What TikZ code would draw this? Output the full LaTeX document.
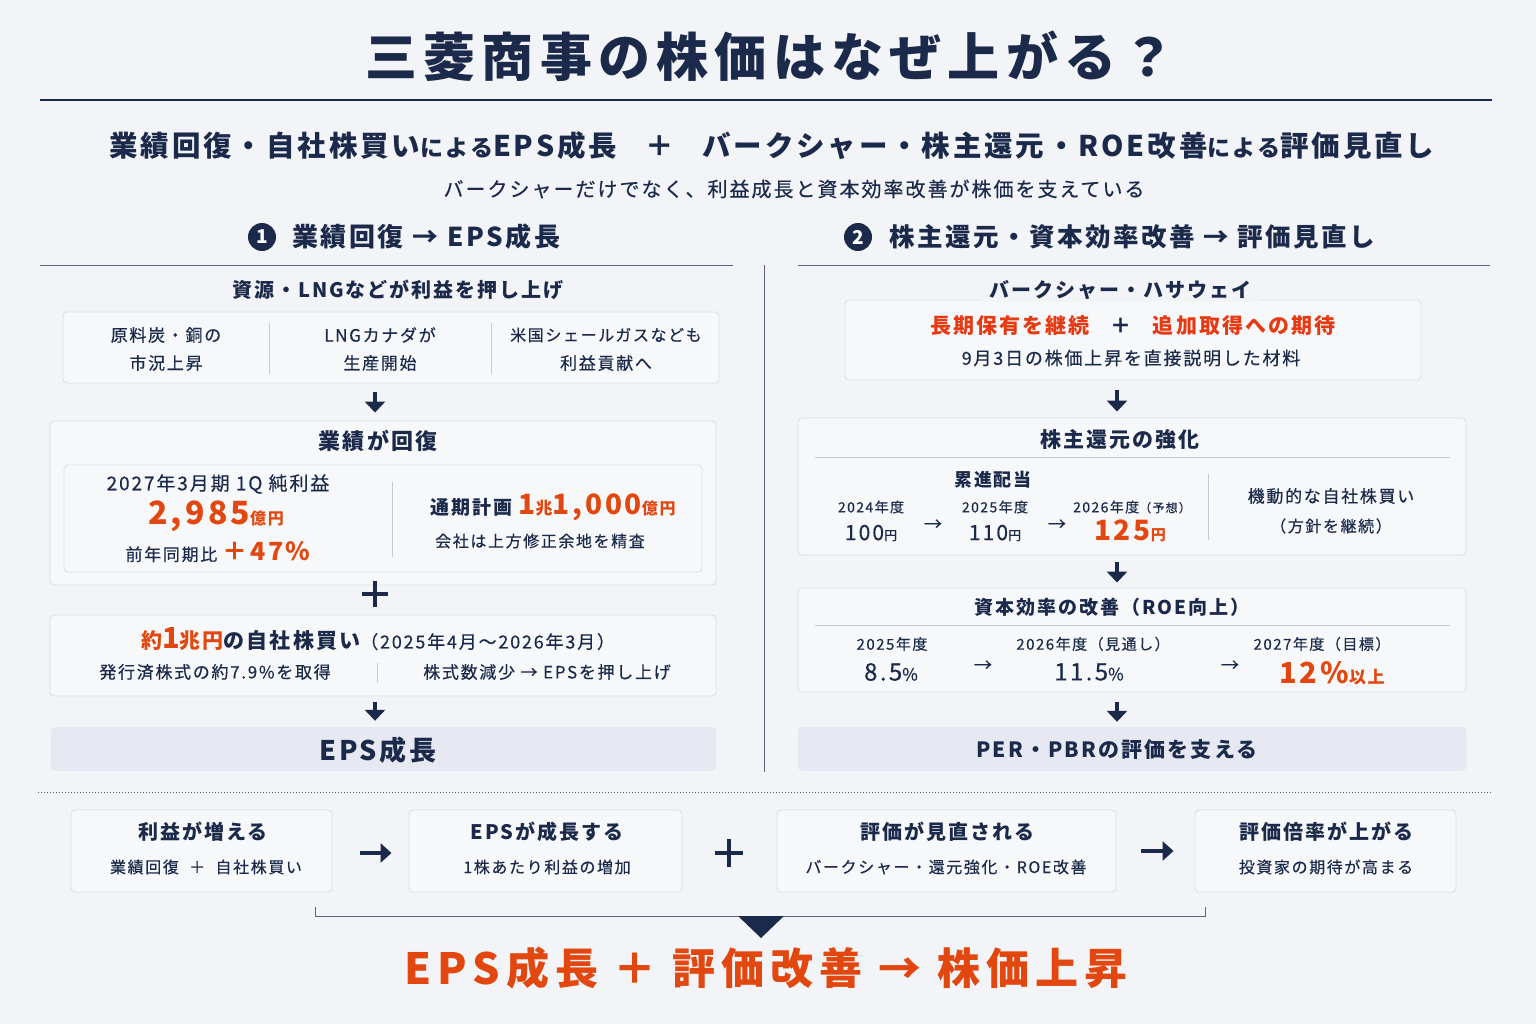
\documentclass[tikz,border=0pt]{standalone}
\usepackage{fontspec}
\setmainfont{Noto Sans CJK JP}[LetterSpace=10,UprightFeatures={FakeBold=0.4}]
\newfontfamily\ttlfont{Noto Sans CJK JP}[LetterSpace=12]
\newfontfamily\bigfont{Noto Sans CJK JP}[LetterSpace=14]
\usetikzlibrary{arrows.meta,calc}
\definecolor{navy}{HTML}{1B2A4A}
\definecolor{org}{HTML}{E2470F}
\definecolor{red2}{HTML}{E63A12}
\definecolor{bgc}{HTML}{F3F4F7}
\definecolor{bordc}{HTML}{DCDFE8}
\definecolor{boxf}{HTML}{F7F8FA}
\definecolor{epsf}{HTML}{E6E9F1}
\definecolor{rulec}{HTML}{5A6580}
\newcommand\fz[1]{\fontsize{#1}{#1}\selectfont}
\begin{document}
\begin{tikzpicture}[x=1pt,y=-1pt,
  t/.style={text=navy,inner sep=0pt,anchor=center},
  panel/.style={draw=bordc,fill=boxf,rounded corners=4pt,line width=0.9pt,inner sep=0pt},
  shade/.style={fill=epsf,rounded corners=4pt,inner sep=0pt,draw=none},
  darr/.style={navy,line width=3.8pt,-{Triangle[width=20pt,length=11pt]}},
  rarr/.style={navy,line width=4.2pt,-{Triangle[width=19pt,length=11pt]}},
  divl/.style={draw=bordc!70!navy!60,line width=0.8pt},
  plus/.style={navy,line width=3.8pt}]
\fill[bgc] (0,0) rectangle (1536,1024);
\useasboundingbox (0,0) rectangle (1536,1024);

% title
\node[t] (title) at (770,56) {\ttlfont\bfseries\fz{52}三菱商事の株価はなぜ上がる？};
\coordinate (tl) at (40,100); \coordinate (tr) at (1492,100);
\draw[navy,line width=1.6pt] (tl) -- (tr);
\node[t] (sub) at (772,146) {\bfseries\fz{28.5}業績回復・自社株買い{\fz{23}による}EPS成長\quad＋\quad バークシャー・株主還元・ROE改善{\fz{23}による}評価見直し};
\node[t] (sub2) at (794,189) {\fz{20}バークシャーだけでなく、利益成長と資本効率改善が株価を支えている};

% section headers
\node[circle,fill=navy,minimum size=28pt,inner sep=0pt,text=white] (c1) at (262,237) {\bfseries\fz{19}1};
\node[t,anchor=west] (h1) at (292,237) {\bfseries\fz{26}業績回復 → EPS成長};
\node[circle,fill=navy,minimum size=28pt,inner sep=0pt,text=white] (c2) at (858,237) {\bfseries\fz{19}2};
\node[t,anchor=west] (h2) at (889,237) {\bfseries\fz{25.5}株主還元・資本効率改善 → 評価見直し};
\coordinate (l1a) at (40,265); \coordinate (l1b) at (733,265);
\coordinate (l2a) at (798,265); \coordinate (l2b) at (1490,265);
\draw[rulec,line width=0.9pt] (l1a) -- (l1b);
\draw[rulec,line width=0.9pt] (l2a) -- (l2b);
\coordinate (va) at (764,265); \coordinate (vb) at (764,772);
\draw[rulec,line width=0.9pt] (va) -- (vb);

% ---------- LEFT ----------
\coordinate (ax) at (375,0);
\node[t] (lh) at (398,290) {\bfseries\fz{20}資源・LNGなどが利益を押し上げ};
\node[panel,minimum width=656pt,minimum height=71pt] (src) at (391,347.5) {};
\draw[divl] (269,323) -- (269,374);
\draw[divl] (491,323) -- (491,374);
\node[t] (s1a) at (166,335) {\fz{17}原料炭・銅の};
\node[t] (s1b) at (166,363) {\fz{17}市況上昇};
\node[t] (s2a) at (380,335) {\fz{17}LNGカナダが};
\node[t] (s2b) at (380,363) {\fz{17}生産開始};
\node[t] (s3a) at (606,335) {\fz{16}米国シェールガスなども};
\node[t] (s3b) at (606,363) {\fz{17}利益貢献へ};

\node[panel,minimum width=666pt,minimum height=164pt] (rec) at (383,503) {};
\draw[darr] ($(src.south -| ax)+(0,9)$) -- ($(rec.north -| ax)+(0,-8)$);
\node[t] (rect) at (378,441) {\bfseries\fz{22}業績が回復};
\node[panel,minimum width=638pt,minimum height=107pt] (reci) at (383,518.5) {};
\draw[divl] (392,482) -- (392,557);
\node[t] (r1) at (218,484) {\fz{19}2027年3月期 1Q 純利益};
\node[t] (r2) at (216,516) {\color{org}\bfseries{\fz{32}2,985}{\fz{16}億円}};
\node[t] (r3) at (218,552) {\fz{17}前年同期比\ {\color{org}\bfseries\fz{25}＋47\%}};
\node[t] (r4) at (553,507) {{\bfseries\fz{19}通期計画}\ \ {\color{org}\bfseries{\fz{28}1}{\fz{17}兆}{\fz{28}1,000}{\fz{16}億円}}};
\node[t] (r5) at (540,541) {\fz{16}会社は上方修正余地を精査};

\node[panel,minimum width=666pt,minimum height=81pt] (buy) at (383,655.5) {};
\draw[plus] (362,594) -- (388,594);
\draw[plus] (375,581) -- (375,607);
\node[t] (b1) at (378,639) {{\color{org}\bfseries\fz{21}約{\fz{29}1}兆円}{\bfseries\fz{21}の自社株買い}{\fz{18}（2025年4月～2026年3月）}};
\draw[divl] (377,663) -- (377,683);
\node[t] (b2) at (215,672) {\fz{17}発行済株式の約7.9\%を取得};
\node[t] (b3) at (547,672) {\fz{17}株式数減少 → EPSを押し上げ};

\node[shade,minimum width=665pt,minimum height=44pt] (eps) at (383.5,749) {};
\draw[darr] ($(buy.south -| ax)+(0,6)$) -- ($(eps.north -| ax)+(0,-6)$);
\node[t] (epst) at (378,750) {\bfseries\fz{27}EPS成長};

% ---------- RIGHT ----------
\coordinate (bx) at (1117,0);
\node[panel,minimum width=576pt,minimum height=80pt] (brk) at (1133,340) {};
\node[t,fill=bgc,inner xsep=8pt,inner ysep=2pt] (brkt) at (1120,290) {\bfseries\fz{20}バークシャー・ハサウェイ};
\node[t] (brk1) at (1133,326) {\bfseries\fz{21}{\color{red2}長期保有を継続}\quad ＋\quad {\color{red2}追加取得への期待}};
\node[t] (brk2) at (1131,358) {\fz{18}9月3日の株価上昇を直接説明した材料};

\node[panel,minimum width=668pt,minimum height=137pt] (ret) at (1132,486.5) {};
\draw[darr] ($(brk.south -| bx)+(0,10)$) -- ($(ret.north -| bx)+(0,-6)$);
\node[t] (rett) at (1120,440) {\bfseries\fz{21}株主還元の強化};
\draw[divl] (815,457) -- (1450,457);
\node[t] (prog) at (993,480) {\bfseries\fz{18}累進配当};
\node[t] (y1) at (871,507) {\fz{14}2024年度};
\node[t] (y2) at (995,507) {\fz{14}2025年度};
\node[t] (y3) at (1132,507) {\fz{14}2026年度{\fz{12}（予想）}};
\node[t] (v1) at (871,533) {{\fz{21}100}{\fz{13}円}};
\node[t] (v2) at (995,533) {{\fz{21}110}{\fz{13}円}};
\node[t] (v3) at (1130,531) {\color{org}\bfseries{\fz{28}125}{\fz{15}円}};
\node[t] (a1) at (933,525) {\fz{18}→};
\node[t] (a2) at (1057,525) {\fz{18}→};
\draw[divl] (1208,474) -- (1208,540);
\node[t] (kd1) at (1331,496) {\fz{17}機動的な自社株買い};
\node[t] (kd2) at (1331,526) {\fz{16}（方針を継続）};

\node[panel,minimum width=668pt,minimum height=104pt] (roe) at (1132,640) {};
\draw[darr] ($(ret.south -| bx)+(0,7)$) -- ($(roe.north -| bx)+(0,-5)$);
\node[t] (roet) at (1112,607) {\bfseries\fz{19}資本効率の改善（ROE向上）};
\draw[divl] (815,625) -- (1450,625);
\node[t] (z1) at (892,644) {\fz{15}2025年度};
\node[t] (z2) at (1093,644) {\fz{15}2026年度（見通し）};
\node[t] (z3) at (1322,644) {\fz{15}2027年度（目標）};
\node[t] (w1) at (891,672) {{\fz{24}8.5}{\fz{17}\%}};
\node[t] (w2) at (1089,672) {{\fz{24}11.5}{\fz{17}\%}};
\node[t] (w3) at (1332,673) {\color{org}\bfseries{\fz{29}12\%}{\fz{17}以上}};
\node[t] (a3) at (983,666) {\fz{18}→};
\node[t] (a4) at (1230,666) {\fz{18}→};

\node[shade,minimum width=668pt,minimum height=44pt] (per) at (1132,749) {};
\draw[darr] ($(roe.south -| bx)+(0,10)$) -- ($(per.north -| bx)+(0,-5)$);
\node[t] (pert) at (1117,750) {\bfseries\fz{21}PER・PBRの評価を支える};

% ---------- BOTTOM ----------
\coordinate (da) at (38,792); \coordinate (db) at (1492,792);
\draw[rulec,line width=1pt,dash pattern=on 1pt off 2pt] (da) -- (db);

\node[panel,minimum width=261pt,minimum height=82pt] (f1) at (201.5,851) {};
\node[panel,minimum width=273pt,minimum height=82pt] (f2) at (545.5,851) {};
\node[panel,minimum width=339pt,minimum height=82pt] (f3) at (946.5,851) {};
\node[panel,minimum width=261pt,minimum height=82pt] (f4) at (1325.5,851) {};
\node[t] (f1a) at (203,832) {\bfseries\fz{20}利益が増える};
\node[t] (f1b) at (206,867) {\fz{16}業績回復\ \ ＋\ \ 自社株買い};
\node[t] (f2a) at (547,832) {\bfseries\fz{20}EPSが成長する};
\node[t] (f2b) at (547,867) {\fz{16}1株あたり利益の増加};
\node[t] (f3a) at (947,832) {\bfseries\fz{20}評価が見直される};
\node[t] (f3b) at (946,867) {\fz{16}バークシャー・還元強化・ROE改善};
\node[t] (f4a) at (1326,832) {\bfseries\fz{20}評価倍率が上がる};
\node[t] (f4b) at (1326,867) {\fz{16}投資家の期待が高まる};
\draw[rarr] ($(f1.east)+(28,2)$) -- ($(f2.west)+(-17,2)$);
\draw[plus] (715,853) -- (743,853);
\draw[plus] (729,839) -- (729,867);
\draw[rarr] ($(f3.east)+(25,0)$) -- ($(f4.west)+(-21,0)$);

\coordinate (k1) at (315,907); \coordinate (k2) at (315,916);
\coordinate (k3) at (1205,916); \coordinate (k4) at (1205,907);
\draw[rulec,line width=1pt] (k1) -- (k2) -- (k3) -- (k4);
\fill[navy] (738,916) -- (784,916) -- (761,938) -- cycle;

\node[t,text=org] (fin) at (766,968) {\bigfont\bfseries\fz{43}EPS成長 ＋ 評価改善 → 株価上昇};
\end{tikzpicture}
\end{document}
